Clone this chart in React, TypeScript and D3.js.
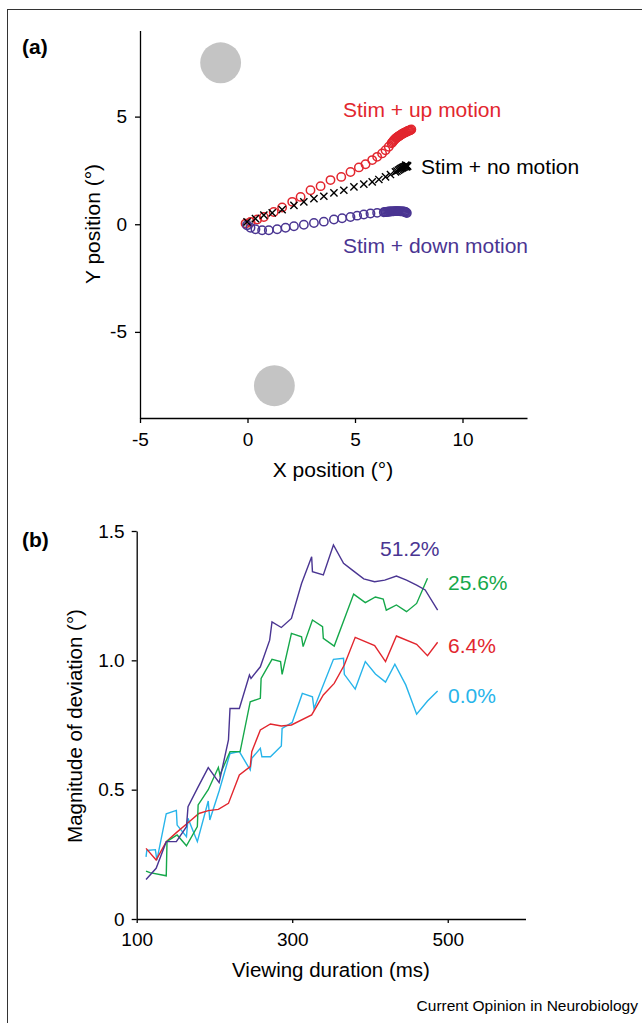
import React, { useEffect, useRef } from 'react';
import * as d3 from 'd3';

// ---- panel (a): eye position traces (deg) ----
const upMotion: [number, number][] = [
  [-0.09, 0.03], [0.14, 0.11], [0.45, 0.22], [0.76, 0.34], [1.22, 0.57], [1.61, 0.78],
  [2.08, 1.04], [2.47, 1.27], [2.93, 1.58], [3.40, 1.77], [3.86, 2.05], [4.36, 2.20],
  [4.79, 2.43], [5.18, 2.64], [5.49, 2.79], [5.80, 2.98], [6.03, 3.13], [6.26, 3.29],
  [6.42, 3.44], [6.57, 3.60], [6.70, 3.76], [6.74, 3.81], [6.78, 3.86], [6.82, 3.91],
  [6.86, 3.95], [6.90, 3.99], [6.94, 4.02], [6.98, 4.05], [7.02, 4.08], [7.06, 4.10],
  [7.10, 4.13], [7.14, 4.16], [7.18, 4.18], [7.22, 4.21], [7.26, 4.23], [7.30, 4.25],
  [7.34, 4.27], [7.38, 4.29], [7.42, 4.31], [7.46, 4.33], [7.50, 4.34], [7.54, 4.36],
  [7.58, 4.38], [7.62, 4.40],
];
const noMotion: [number, number][] = [
  [-0.02, 0.11], [0.37, 0.26], [0.76, 0.42], [1.15, 0.53], [1.61, 0.68], [2.16, 0.88],
  [2.62, 1.04], [3.09, 1.19], [3.55, 1.30], [4.02, 1.46], [4.48, 1.58], [4.95, 1.74],
  [5.41, 1.86], [5.80, 1.97], [6.11, 2.08], [6.42, 2.20], [6.65, 2.31], [6.88, 2.43],
  [6.95, 2.47], [7.02, 2.51], [7.08, 2.55], [7.13, 2.58], [7.18, 2.61], [7.22, 2.63],
  [7.26, 2.65], [7.30, 2.67], [7.34, 2.69], [7.38, 2.71], [7.42, 2.72], [7.45, 2.70],
  [7.40, 2.66], [7.36, 2.75],
];
const downMotion: [number, number][] = [
  [-0.02, -0.05], [0.14, -0.16], [0.37, -0.23], [0.68, -0.28], [0.99, -0.28], [1.38, -0.23],
  [1.77, -0.16], [2.16, -0.09], [2.62, -0.02], [3.09, 0.06], [3.55, 0.12], [4.02, 0.22],
  [4.40, 0.28], [4.79, 0.34], [5.10, 0.40], [5.41, 0.45], [5.72, 0.50], [6.03, 0.53],
  [6.34, 0.56], [6.40, 0.57], [6.45, 0.57], [6.50, 0.58], [6.55, 0.58], [6.60, 0.59],
  [6.65, 0.59], [6.70, 0.60], [6.75, 0.60], [6.80, 0.60], [6.85, 0.61], [6.90, 0.61],
  [6.95, 0.61], [7.00, 0.61], [7.05, 0.61], [7.10, 0.60], [7.15, 0.60], [7.20, 0.60],
  [7.25, 0.59], [7.30, 0.58], [7.34, 0.57], [7.38, 0.55], [7.41, 0.52],
];
const targets: [number, number][] = [[-1.25, 7.5], [1.25, -7.5]];
const posTicksX = [-5, 0, 5, 10];
const posTicksY = [-5, 0, 5];

// ---- panel (b): deviation vs viewing duration ----
const coh512: [number, number][] = [
  [112, 0.153], [125, 0.196], [138, 0.299], [151, 0.299], [164, 0.357], [166, 0.434],
  [179, 0.511], [192, 0.585], [206, 0.527], [218, 0.692], [220, 0.814], [232, 0.814],
  [245, 0.943], [247, 0.930], [259, 0.975], [271, 1.078], [274, 1.149], [286, 1.127],
  [299, 1.162], [312, 1.297], [325, 1.400], [326, 1.343], [340, 1.330], [353, 1.446],
  [366, 1.375], [379, 1.345], [392, 1.315], [406, 1.304], [419, 1.310], [434, 1.326],
  [447, 1.310], [460, 1.291], [471, 1.272], [487, 1.194],
];
const coh256: [number, number][] = [
  [112, 0.185], [117, 0.179], [138, 0.167], [139, 0.300], [152, 0.325], [164, 0.283],
  [178, 0.357], [179, 0.441], [192, 0.500], [205, 0.586], [207, 0.557], [220, 0.647],
  [233, 0.647], [246, 0.840], [259, 0.853], [260, 0.930], [274, 1.004], [285, 0.995],
  [287, 0.946], [299, 1.104], [312, 1.091], [314, 1.053], [326, 1.156], [339, 1.130],
  [340, 1.085], [354, 1.055], [379, 1.256], [394, 1.223], [407, 1.245], [417, 1.237],
  [421, 1.194], [434, 1.214], [447, 1.188], [460, 1.220], [474, 1.317],
];
const coh64: [number, number][] = [
  [112, 0.273], [125, 0.228], [138, 0.299], [151, 0.334], [166, 0.372], [180, 0.408],
  [192, 0.419], [205, 0.424], [218, 0.447], [232, 0.557], [246, 0.589], [248, 0.647],
  [259, 0.731], [272, 0.754], [286, 0.746], [299, 0.750], [325, 0.789], [340, 0.866],
  [354, 0.911], [367, 0.982], [381, 1.089], [406, 1.057], [420, 0.995], [434, 1.094],
  [460, 1.062], [474, 1.018], [487, 1.070],
];
const coh00: [number, number][] = [
  [112, 0.240], [113, 0.265], [124, 0.268], [126, 0.228], [138, 0.407], [151, 0.420],
  [152, 0.363], [164, 0.318], [166, 0.389], [178, 0.299], [192, 0.456], [194, 0.383],
  [206, 0.495], [220, 0.640], [232, 0.647], [246, 0.576], [248, 0.621], [259, 0.660],
  [261, 0.627], [272, 0.627], [286, 0.669], [287, 0.737], [300, 0.760], [313, 0.872],
  [326, 0.859], [328, 0.814], [353, 1.004], [366, 1.008], [367, 0.946], [381, 0.889],
  [394, 0.995], [407, 0.947], [420, 0.916], [432, 0.985], [446, 0.905], [460, 0.792],
  [474, 0.843], [487, 0.881],
];
const cohLabels = ['51.2%', '25.6%', '6.4%', '0.0%'];
const durTicks = [100, 300, 500];
const devTicks = [0, 0.5, 1.0, 1.5];

const RED = '#e2262e';
const PURPLE = '#4a3592';
const GREEN = '#15a84a';
const CYAN = '#27b4ea';
const FONT = '"Liberation Sans", Arial, Helvetica, sans-serif';

export default function App() {
  const ref = useRef<SVGSVGElement | null>(null);

  useEffect(() => {
    const svg = d3.select(ref.current);
    svg.selectAll('*').remove();
    svg.style('font-family', FONT);

    // frame
    svg.append('rect').attr('x', 7.5).attr('y', 9.5).attr('width', 800).attr('height', 1200)
      .attr('fill', 'none').attr('stroke', '#333').attr('stroke-width', 1);

    // ===== panel a =====
    const xA = d3.scaleLinear().domain([-5, 13]).range([140, 527]);
    const yA = d3.scaleLinear().domain([-9, 9]).range([418, 30.5]);
    const pxPerDeg = xA(1) - xA(0);
    const a = svg.append('g');

    a.append('text').attr('x', 22).attr('y', 54).attr('font-size', 21).attr('font-weight', 'bold').text('(a)');

    a.selectAll('.target').data(targets).join('circle')
      .attr('cx', d => xA(d[0])).attr('cy', d => yA(d[1])).attr('r', 0.95 * pxPerDeg).attr('fill', '#c4c4c4');
    a.append('circle').attr('cx', xA(0)).attr('cy', yA(0)).attr('r', 6).attr('fill', '#c4c4c4');

    const axA = a.append('g').attr('transform', `translate(0,${yA(-9)})`)
      .call(d3.axisBottom(xA).tickValues(posTicksX).tickSize(5).tickSizeOuter(0).tickPadding(10).tickFormat(d => String(d)));
    const ayA = a.append('g').attr('transform', `translate(${xA(-5)},0)`)
      .call(d3.axisLeft(yA).tickValues(posTicksY).tickSize(5).tickSizeOuter(0).tickPadding(8).tickFormat(d => String(d)));
    [axA, ayA].forEach(g => {
      g.selectAll('text').attr('font-size', 19).attr('font-family', FONT).attr('fill', '#000');
      g.selectAll('path, line').attr('stroke', '#000').attr('stroke-width', 1.3);
    });

    a.append('text').attr('x', 333).attr('y', 477).attr('text-anchor', 'middle').attr('font-size', 21).text('X position (°)');
    a.append('text').attr('transform', 'translate(100,224) rotate(-90)').attr('text-anchor', 'middle').attr('font-size', 21).text('Y position (°)');

    a.selectAll('.up').data(upMotion).join('circle')
      .attr('cx', d => xA(d[0])).attr('cy', d => yA(d[1])).attr('r', 4.2)
      .attr('fill', 'none').attr('stroke', RED).attr('stroke-width', 1.5);
    a.selectAll('.down').data(downMotion).join('circle')
      .attr('cx', d => xA(d[0])).attr('cy', d => yA(d[1])).attr('r', 4.2)
      .attr('fill', 'none').attr('stroke', PURPLE).attr('stroke-width', 1.5);
    const s = 3.6;
    a.selectAll('.none').data(noMotion).join('path')
      .attr('d', d => {
        const cx = xA(d[0]), cy = yA(d[1]);
        return `M${cx - s},${cy - s}L${cx + s},${cy + s}M${cx - s},${cy + s}L${cx + s},${cy - s}`;
      })
      .attr('stroke', '#000').attr('stroke-width', 1.4).attr('fill', 'none');

    a.append('text').attr('x', 343).attr('y', 117).attr('font-size', 21).attr('fill', RED).text('Stim + up motion');
    a.append('text').attr('x', 421).attr('y', 174).attr('font-size', 21).attr('fill', '#000').text('Stim + no motion');
    a.append('text').attr('x', 343).attr('y', 253).attr('font-size', 21).attr('fill', PURPLE).text('Stim + down motion');

    // ===== panel b =====
    const xB = d3.scaleLinear().domain([100, 600]).range([136.7, 525.5]);
    const yB = d3.scaleLinear().domain([0, 1.5]).range([919, 531]);
    const b = svg.append('g');

    b.append('text').attr('x', 22).attr('y', 547).attr('font-size', 21).attr('font-weight', 'bold').text('(b)');

    const axB = b.append('g').attr('transform', `translate(0,${yB(0)})`)
      .call(d3.axisBottom(xB).tickValues(durTicks).tickSize(4).tickSizeOuter(0).tickPadding(10));
    const ayB = b.append('g').attr('transform', `translate(${xB(100)},0)`)
      .call(d3.axisLeft(yB).tickValues(devTicks).tickSize(5).tickSizeOuter(0).tickPadding(7)
        .tickFormat(d => (+d === 0 ? '0' : d3.format('.1f')(+d))));
    [axB, ayB].forEach(g => {
      g.selectAll('text').attr('font-size', 19).attr('font-family', FONT).attr('fill', '#000');
      g.selectAll('path, line').attr('stroke', '#000').attr('stroke-width', 1.3);
    });

    b.append('text').attr('x', 331).attr('y', 977).attr('text-anchor', 'middle').attr('font-size', 20.5).text('Viewing duration (ms)');
    b.append('text').attr('transform', 'translate(82,726) rotate(-90)').attr('text-anchor', 'middle').attr('font-size', 20.5).text('Magnitude of deviation (°)');

    const line = d3.line<[number, number]>().x(d => xB(d[0])).y(d => yB(d[1]));
    const series = [
      { data: coh00, color: CYAN },
      { data: coh64, color: RED },
      { data: coh256, color: GREEN },
      { data: coh512, color: PURPLE },
    ];
    b.selectAll('.series').data(series).join('path')
      .attr('d', d => line(d.data)).attr('fill', 'none').attr('stroke', d => d.color)
      .attr('stroke-width', 1.4).attr('stroke-linejoin', 'miter');

    const labelPos = [
      { x: 380, y: 556, color: PURPLE },
      { x: 448, y: 590, color: GREEN },
      { x: 448, y: 653, color: RED },
      { x: 448, y: 703, color: CYAN },
    ];
    b.selectAll('.clabel').data(cohLabels).join('text')
      .attr('x', (_, i) => labelPos[i].x).attr('y', (_, i) => labelPos[i].y)
      .attr('font-size', 21).attr('fill', (_, i) => labelPos[i].color).text(d => d);

    svg.append('text').attr('x', 638).attr('y', 1011).attr('text-anchor', 'end').attr('font-size', 15.5)
      .text('Current Opinion in Neurobiology');
  }, []);

  return (
    <svg ref={ref} width={642} height={1023} style={{ position: 'absolute', left: 0, top: 0, background: '#fff' }} />
  );
}
